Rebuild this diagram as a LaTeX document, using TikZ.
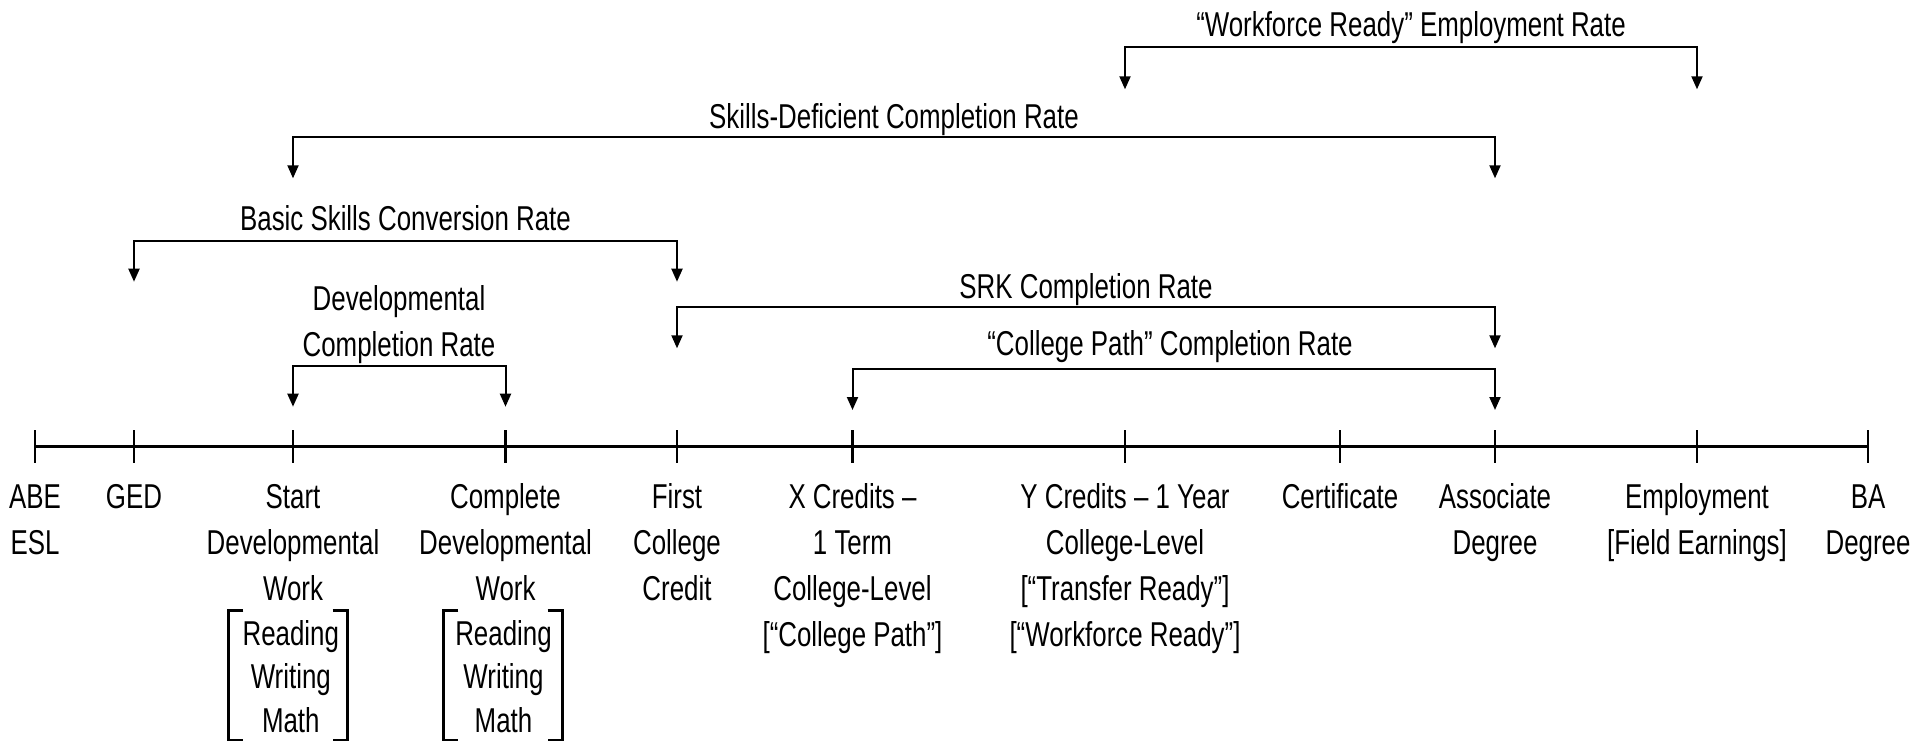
\documentclass[tikz,border=0pt]{standalone}
\usepackage{fontspec}
\setmainfont[FakeStretch=0.75]{Liberation Sans}
\usetikzlibrary{arrows.meta}
\newcommand\lblfont{\fontsize{34.5}{46}\selectfont}
\newcommand\blkfont{\fontsize{34.5}{43.5}\selectfont}
\begin{document}
\begin{tikzpicture}[x=1pt,y=-1pt,
  lab/.style={font=\lblfont, inner sep=0pt, align=center, anchor=north},
  blk/.style={font=\blkfont, inner sep=0pt, align=center, anchor=north},
  toplab/.style={font=\lblfont, inner sep=0pt, anchor=base},
  bra/.style={line width=2pt, {Triangle[length=13pt,width=11pt]}-{Triangle[length=13pt,width=11pt]}},
  tickmark/.style={line width=2.3pt},
  axis/.style={line width=3pt},
  sqbr/.style={line width=2.6pt}]
\useasboundingbox (0,0) rectangle (1915,742);

% timeline coordinates
\coordinate (t1) at (35,446.7);
\coordinate (t2) at (134,446.7);
\coordinate (t3) at (293,446.7);
\coordinate (t4) at (505.5,446.7);
\coordinate (t5) at (677,446.7);
\coordinate (t6) at (852.5,446.7);
\coordinate (t7) at (1125,446.7);
\coordinate (t8) at (1340,446.7);
\coordinate (t9) at (1495,446.7);
\coordinate (t10) at (1697,446.7);
\coordinate (t11) at (1868,446.7);

\draw[axis] (t1) -- (t11);
\foreach \t in {t1,t2,t3,t4,t5,t6,t7,t8,t9,t10,t11}
  \draw[tickmark] ([yshift=16.5pt]\t) -- ([yshift=-16.5pt]\t);

% bottom labels
\node[lab] (l1) at (35,476.1) {\strut ABE\\ESL};
\node[lab] (l2) at (134,476.1) {\strut GED};
\node[lab] (l3) at (293,476.1) {\strut Start\\Developmental\\Work};
\node[lab] (l4) at (505.5,476.1) {\strut Complete\\Developmental\\Work};
\node[lab] (l5) at (677,476.1) {\strut First\\College\\Credit};
\node[lab] (l6) at (852.5,476.1) {\strut X Credits –\\1 Term\\College-Level\\{[}“College Path”{]}};
\node[lab] (l7) at (1125,476.1) {\strut Y Credits – 1 Year\\College-Level\\{[}“Transfer Ready”{]}\\{[}“Workforce Ready”{]}};
\node[lab] (l8) at (1340,476.1) {\strut Certificate};
\node[lab] (l9) at (1495,476.1) {\strut Associate\\Degree};
\node[lab] (l10) at (1697,476.1) {\strut Employment\\{[}Field Earnings{]}};
\node[lab] (l11) at (1868,476.1) {\strut BA\\Degree};

% bracketed blocks
\node[blk] (b1) at (290.8,614.5) {\strut Reading\\Writing\\Math};
\node[blk] (b2) at (503.5,614.5) {\strut Reading\\Writing\\Math};
\draw[sqbr] (243.3,610.7) -- (228.3,610.7) -- (228.3,740) -- (243.3,740);
\draw[sqbr] (332.7,610.7) -- (347.7,610.7) -- (347.7,740) -- (332.7,740);
\draw[sqbr] (458.3,610.7) -- (443.3,610.7) -- (443.3,740) -- (458.3,740);
\draw[sqbr] (547.7,610.7) -- (562.7,610.7) -- (562.7,740) -- (547.7,740);

% measures
\node[toplab] (mwr) at (1411,36) {“Workforce Ready” Employment Rate};
\coordinate (wrL) at (1125,89.3);
\coordinate (wrC) at (1697,47.3);
\coordinate (wrR) at (1697,89.3);
\draw[bra] (wrL) |- (wrC) -- (wrR);

\node[toplab] (msd) at (894,128.3) {Skills-Deficient Completion Rate};
\coordinate (sdL) at (293,178.3);
\coordinate (sdC) at (1495,137.3);
\coordinate (sdR) at (1495,178.3);
\draw[bra] (sdL) |- (sdC) -- (sdR);

\node[toplab] (mbs) at (405.5,230.7) {Basic Skills Conversion Rate};
\coordinate (bsL) at (134,281.7);
\coordinate (bsC) at (677,240.7);
\coordinate (bsR) at (677,281.7);
\draw[bra] (bsL) |- (bsC) -- (bsR);

\node[lab] (mdc) at (399,277.8) {\strut Developmental\\Completion Rate};
\coordinate (dcL) at (293,406.7);
\coordinate (dcC) at (505.5,365.5);
\coordinate (dcR) at (505.5,406.7);
\draw[bra] (dcL) |- (dcC) -- (dcR);

\node[toplab] (msrk) at (1086,298) {SRK Completion Rate};
\coordinate (srL) at (677,348.3);
\coordinate (srC) at (1495,306.7);
\coordinate (srR) at (1495,348.3);
\draw[bra] (srL) |- (srC) -- (srR);

\node[toplab] (mcp) at (1170,355) {“College Path” Completion Rate};
\coordinate (cpL) at (852.5,410);
\coordinate (cpC) at (1495,369);
\coordinate (cpR) at (1495,410);
\draw[bra] (cpL) |- (cpC) -- (cpR);
\end{tikzpicture}
\end{document}
